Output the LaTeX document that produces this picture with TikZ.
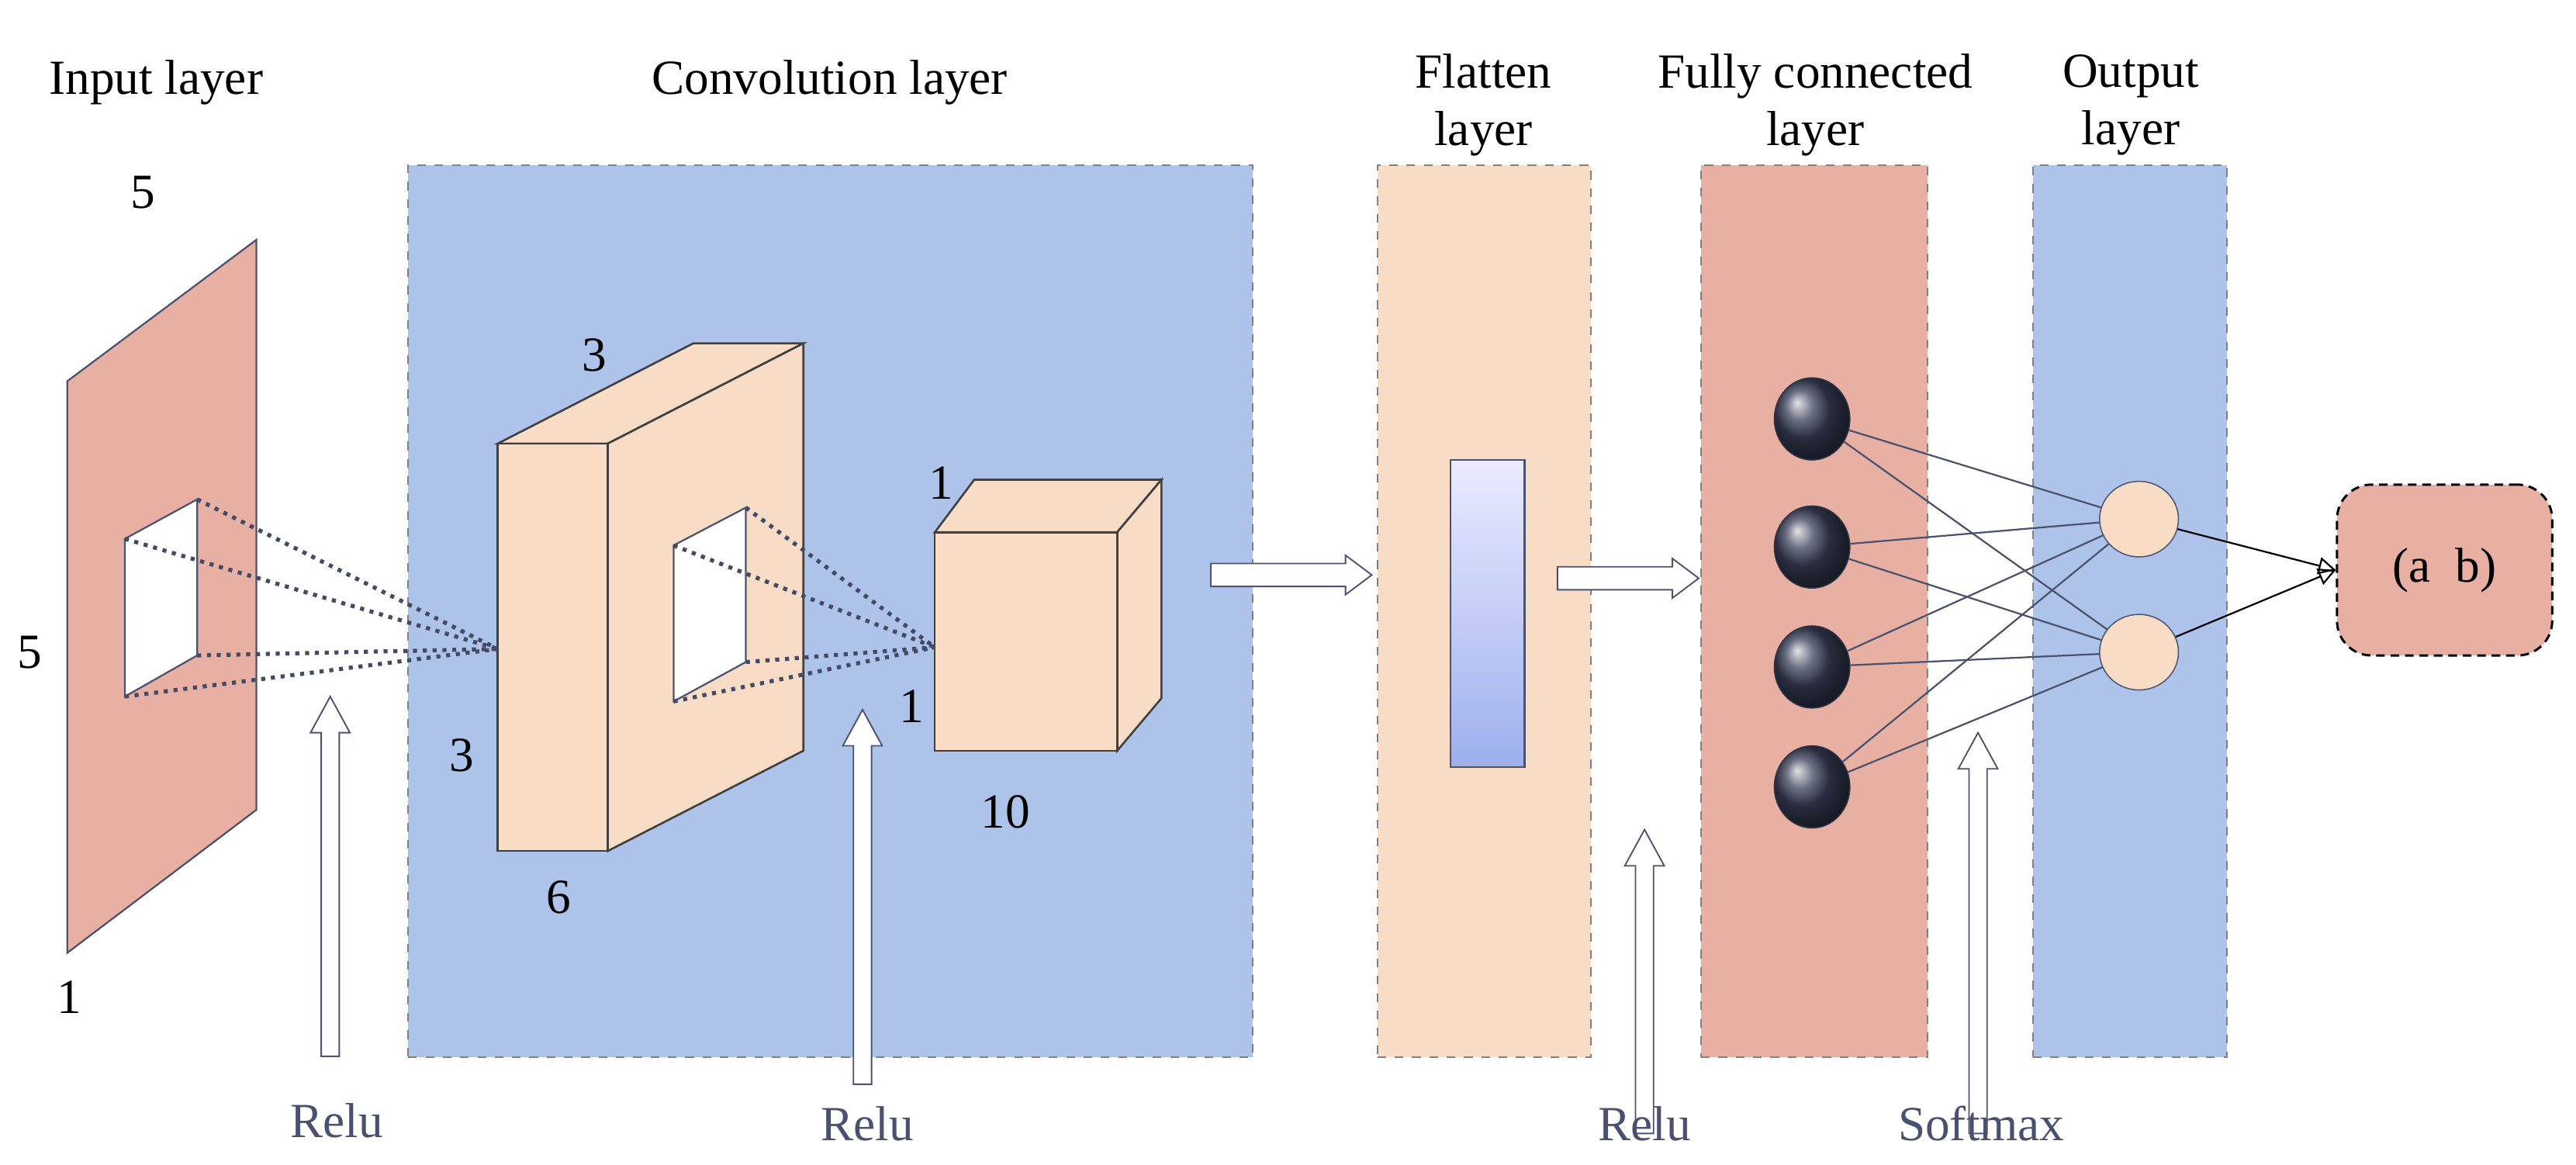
\documentclass[tikz,border=0pt]{standalone}
\usepackage{fontspec}
\usetikzlibrary{shapes.geometric,arrows.meta}
\setmainfont{Liberation Serif}
\definecolor{pinkf}{HTML}{E8AFA3}
\definecolor{bluef}{HTML}{AEC3EA}
\definecolor{peach}{HTML}{F8DCC6}
\definecolor{dark}{HTML}{3A4059}
\definecolor{edge}{HTML}{4A5270}
\definecolor{lbl}{HTML}{4A5070}
\newcommand{\myup}[3]{\draw[edge,fill=white,line width=0.5pt] (#1-5.5,#2)--(#1-5.5,#3+22)--(#1-12,#3+22)--(#1,#3)--(#1+12,#3+22)--(#1+5.5,#3+22)--(#1+5.5,#2)--cycle;}
\newcommand{\myright}[3]{\draw[edge,fill=white,line width=0.5pt] (#1,#3-7)--(#2-16,#3-7)--(#2-16,#3-12)--(#2,#3)--(#2-16,#3+12)--(#2-16,#3+7)--(#1,#3+7)--cycle;}
\begin{document}
\begin{tikzpicture}[x=0.02cm,y=-0.02cm,
  txt/.style={font=\fontsize{17}{20}\selectfont,inner sep=0pt,align=center},
  rl/.style={txt,text=lbl},
  col/.style={draw=gray,dashed,line width=0.5pt},
  box/.style={draw=black!75,line width=0.7pt,fill=peach},
  dl/.style={dotted,line width=1.4pt,edge!90!black},
  wire/.style={edge,line width=0.6pt}]
\useasboundingbox (0,0) rectangle (1568,709);
% columns
\node[col,fill=bluef,minimum width=514*0.02cm,minimum height=543*0.02cm,anchor=north west,inner sep=0] (conv) at (248,100) {};
\node[col,fill=peach,minimum width=130*0.02cm,minimum height=543*0.02cm,anchor=north west,inner sep=0] (flat) at (838,100) {};
\node[col,fill=pinkf,minimum width=138*0.02cm,minimum height=543*0.02cm,anchor=north west,inner sep=0] (fc) at (1035,100) {};
\node[col,fill=bluef,minimum width=118*0.02cm,minimum height=543*0.02cm,anchor=north west,inner sep=0] (outl) at (1237,100) {};
% titles
\node[txt] (t1) at (95,50) {Input layer};
\node[txt] (t2) at (505,50) {Convolution layer};
\node[txt] (t3) at (903,64) {Flatten\\layer};
\node[txt] (t4) at (1105,64) {Fully connected\\layer};
\node[txt] (t5) at (1297,64) {Output\\layer};
% input plane
\draw[edge,fill=pinkf,line width=0.6pt] (41,232)--(156,146)--(156,493)--(41,580)--cycle;
\draw[edge,fill=white,line width=0.6pt] (76,328)--(120,304)--(120,399)--(76,424)--cycle;
\node[txt] (n5a) at (87,117) {5};
\node[txt] (n5b) at (18,397) {5};
\node[txt] (n1a) at (42,607) {1};
% big slab
\draw[box] (303,270)--(422,209)--(489,209)--(370,270)--cycle;
\draw[box] (370,270)--(489,209)--(489,457)--(370,518)--cycle;
\draw[box] (303,270) rectangle (370,518);
\draw[edge,fill=white,line width=0.6pt] (410,332)--(454,309)--(454,403)--(410,427)--cycle;
\coordinate (f1) at (303,395);
\foreach \p in {(76,328),(120,304),(120,399),(76,424)} \draw[dl] \p -- (f1);
\node[txt] (n3a) at (362,216) {3};
\node[txt] (n3b) at (281,460) {3};
\node[txt] (n6) at (340,546) {6};
% small cube
\draw[box] (569,324)--(593,292)--(707,292)--(680,324)--cycle;
\draw[box] (680,324)--(707,292)--(707,425)--(680,457)--cycle;
\draw[box] (569,324) rectangle (680,457);
\coordinate (f2) at (569,394);
\foreach \p in {(410,332),(454,309),(454,403),(410,427)} \draw[dl] \p -- (f2);
\node[txt] (n1b) at (573,294) {1};
\node[txt] (n1c) at (555,430) {1};
\node[txt] (n10) at (612,494) {10};
% flatten bar
\shade[top color=blue!8!white,bottom color=bluef!90!blue] (883,280) rectangle (928,467);
\draw[edge,line width=0.6pt] (883,280) rectangle (928,467);
% arrows
\myright{737}{835}{350}
\myright{948}{1034}{352}
\myup{201}{643}{424}
\myup{525}{660}{432}
\myup{1001}{690}{505}
\myup{1204}{690}{446}
\node[rl] (r1) at (205,682) {Relu};
\node[rl] (r2) at (528,684) {Relu};
\node[rl] (r3) at (1001,684) {Relu};
\node[rl] (sm) at (1206,684) {Softmax};
% nodes
\foreach \i/\y in {1/255,2/333,3/406,4/479}
  \node[ellipse,draw=dark!80!black,ball color=dark,shading=ball,minimum width=46*0.02cm,minimum height=50*0.02cm,inner sep=0] (h\i) at (1103,\y) {};
\foreach \i/\y in {1/316,2/397}
  \node[ellipse,draw=edge,fill=peach,minimum width=48*0.02cm,minimum height=46*0.02cm,inner sep=0] (o\i) at (1302,\y) {};
\foreach \i in {1,...,4}{\draw[wire] (h\i) -- (o1); \draw[wire] (h\i) -- (o2);}
\node[draw=black,densely dashed,line width=0.8pt,fill=pinkf,rounded corners=12pt,minimum width=131*0.02cm,minimum height=104*0.02cm,font=\fontsize{17}{20}\selectfont] (res) at (1488,347) {(a\enspace b)};
\draw[wire,black,-{Triangle[open,length=6pt,width=6pt]}] (o1) -- (res.west);
\draw[wire,black,-{Triangle[open,length=6pt,width=6pt]}] (o2) -- (res.west);
\end{tikzpicture}
\end{document}
